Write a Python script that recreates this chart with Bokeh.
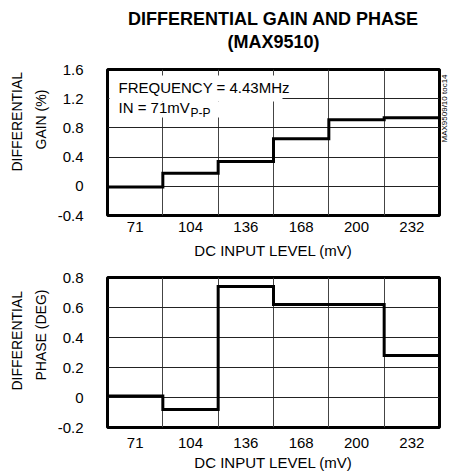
import math
from bokeh.plotting import figure
from bokeh.models import Range1d, FixedTicker, Label, LinearAxis, Title, BoxAnnotation
from bokeh.layouts import column
from bokeh.embed import file_html
from bokeh.resources import INLINE

# ---- data ----
categories = ["71", "104", "136", "168", "200", "232"]
gain_pct = [-0.01, 0.18, 0.34, 0.65, 0.91, 0.94]
phase_deg = [0.01, -0.08, 0.74, 0.62, 0.62, 0.28]
gain_ticks = [-0.4, 0.0, 0.4, 0.8, 1.2, 1.6]
gain_tick_labels = ["-0.4", "0", "0.4", "0.8", "1.2", "1.6"]
phase_ticks = [-0.2, 0.0, 0.2, 0.4, 0.6, 0.8]
phase_tick_labels = ["-0.2", "0", "0.2", "0.4", "0.6", "0.8"]

FONT = "Liberation Sans"
W = 461
LEFT = 107
RIGHT = 22


def make_panel(values, yticks, ylabels, height, top, bottom, x_standoff, xl_standoff):
    n = len(categories)
    p = figure(width=W, height=height,
               x_range=Range1d(0, n), y_range=Range1d(yticks[0], yticks[-1]),
               output_backend="svg", toolbar_location=None, title=None,
               min_border_left=LEFT, min_border_right=RIGHT,
               min_border_top=top, min_border_bottom=bottom)
    p.background_fill_color = "white"
    p.border_fill_color = "white"
    p.outline_line_color = "black"
    p.outline_line_width = 3

    centers = [i + 0.5 for i in range(n)]
    p.xaxis.ticker = FixedTicker(ticks=centers)
    p.xaxis.major_label_overrides = {c: lab for c, lab in zip(centers, categories)}
    p.yaxis.ticker = FixedTicker(ticks=yticks)
    p.yaxis.major_label_overrides = {t: lab for t, lab in zip(yticks, ylabels)}

    for ax in (p.xaxis, p.yaxis):
        ax.axis_line_color = None
        ax.major_tick_line_color = None
        ax.minor_tick_line_color = None
        ax.major_tick_out = 0
        ax.major_tick_in = 0
        ax.major_label_text_font = FONT
        ax.major_label_text_font_size = "15px"
        ax.major_label_text_color = "black"
    p.xaxis.major_label_standoff = x_standoff
    p.yaxis.major_label_standoff = 24

    p.xaxis.axis_label = "DC INPUT LEVEL (mV)"
    p.xaxis.axis_label_text_font = FONT
    p.xaxis.axis_label_text_font_size = "15px"
    p.xaxis.axis_label_text_font_style = "normal"
    p.xaxis.axis_label_text_color = "black"
    p.xaxis.axis_label_standoff = xl_standoff

    p.xgrid.ticker = FixedTicker(ticks=list(range(1, n)))
    p.ygrid.ticker = FixedTicker(ticks=yticks)
    p.xgrid.grid_line_color = "#444444"
    p.ygrid.grid_line_color = "#222222"
    p.xgrid.grid_line_width = 1
    p.ygrid.grid_line_width = 1

    edges = list(range(n + 1))
    p.step(x=edges, y=values + [values[-1]], mode="after",
           line_color="black", line_width=3, line_join="miter")
    return p


def text_axis(p, side, text, size, standoff, style="normal"):
    ax = LinearAxis(ticker=FixedTicker(ticks=[]), axis_label=text,
                    axis_label_standoff=standoff,
                    axis_label_text_font=FONT,
                    axis_label_text_font_size=f"{size}px",
                    axis_label_text_font_style=style,
                    axis_label_text_color="black",
                    axis_line_color=None, major_tick_line_color=None,
                    minor_tick_line_color=None, major_tick_out=0, major_tick_in=0,
                    major_label_standoff=0, major_label_text_font_size="0px")
    p.add_layout(ax, side)
    return ax


def side_title(p, side, text, size, offset, standoff):
    p.add_layout(Title(text=text, align="left", offset=offset, standoff=standoff,
                       text_font=FONT, text_font_size=f"{size}px",
                       text_font_style="normal", text_color="black"), side)


def white_box(p, left, right, top, bottom):
    p.add_layout(BoxAnnotation(left=left, right=right, top=top, bottom=bottom,
                               left_units="screen", right_units="screen",
                               top_units="screen", bottom_units="screen",
                               fill_color="white", fill_alpha=1.0,
                               line_color=None))


def label(p, text, x, y, size):
    p.add_layout(Label(x=x, y=y, x_units="screen", y_units="screen", text=text,
                       text_font=FONT, text_font_size=f"{size}px",
                       text_color="black", text_align="left",
                       text_baseline="alphabetic"))


# ---- top panel: differential gain ----
p1 = make_panel(gain_pct, gain_ticks, gain_tick_labels,
                height=263, top=69, bottom=48, x_standoff=6, xl_standoff=7)
text_axis(p1, "above", "(MAX9510)", 18, 18, style="bold")
text_axis(p1, "above", "DIFFERENTIAL GAIN AND PHASE", 18, 0, style="bold")
side_title(p1, "left", "GAIN (%)", 14, 66, 12)
side_title(p1, "left", "DIFFERENTIAL", 14, 44, 0)
rax = text_axis(p1, "right", "MAX9509/10 toc14", 8, 5)
try:
    rax.axis_label_orientation = math.pi / 2
except Exception:
    pass
# white backing behind the annotation text (hides grid lines, as in the original)
white_box(p1, 2, 175, 140, 114)
white_box(p1, 2, 115, 114, 98)
label(p1, "FREQUENCY = 4.43MHz", 11, 128, 15)
label(p1, "IN = 71mV", 11, 108, 15)
label(p1, "P-P", 83, 103, 12)

# ---- bottom panel: differential phase ----
p2 = make_panel(phase_deg, phase_ticks, phase_tick_labels,
                height=211, top=14, bottom=47, x_standoff=10, xl_standoff=3)
side_title(p2, "left", "PHASE (DEG)", 14, 47, 12)
side_title(p2, "left", "DIFFERENTIAL", 14, 37, 0)

layout = column(p1, p2, spacing=0)
open("out.html", "w").write(file_html(layout, INLINE))
